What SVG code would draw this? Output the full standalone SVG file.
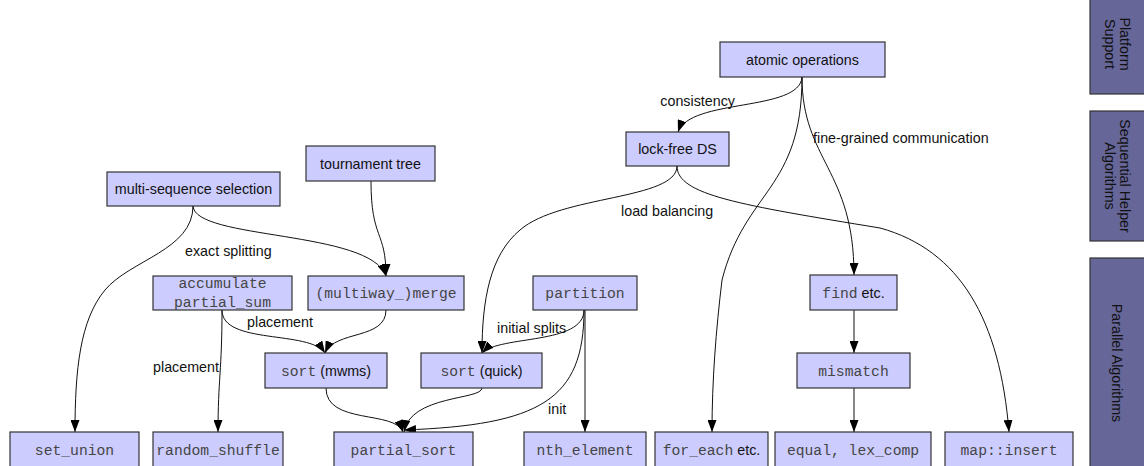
<svg xmlns="http://www.w3.org/2000/svg" width="1144" height="466" viewBox="0 0 1144 466">
  <style>
    .node rect { fill: #ccccff; stroke: #333333; stroke-width: 1.2; }
    .layer rect { fill: #666699; stroke: #333333; stroke-width: 1.2; }
    text { font-family: "Liberation Sans", Arial, sans-serif; font-size: 14.3px; fill: #111111; }
    .mono { font-family: "Liberation Mono", "Courier New", monospace; font-size: 14.7px; fill: #454545; }
    .c { text-anchor: middle; }
    .edges path { fill: none; stroke: #111111; stroke-width: 1; marker-end: url(#arrow); }
    .label { fill: #111111; }
  </style>
  <defs>
    <marker id="arrow" markerUnits="userSpaceOnUse" viewBox="0 0 12 9" refX="12" refY="4.5" markerWidth="12" markerHeight="9" orient="auto">
      <path d="M0,0 L12,4.5 L0,9 z" fill="#000000"/>
    </marker>
  </defs>
  <rect x="0" y="0" width="1144" height="466" fill="#ffffff"/>

  <!-- layer bars on the right -->
  <g id="layer-platform" class="layer">
    <rect x="1090" y="-6" width="60" height="100"/>
    <text transform="translate(1117,44) rotate(90)" class="c"><tspan x="0" y="-3">Platform</tspan><tspan x="0" y="12">Support</tspan></text>
  </g>
  <g id="layer-sequential" class="layer">
    <rect x="1090" y="111" width="60" height="130"/>
    <text transform="translate(1117,176) rotate(90)" class="c"><tspan x="0" y="-3">Sequential Helper</tspan><tspan x="0" y="12">Algorithms</tspan></text>
  </g>
  <g id="layer-parallel" class="layer">
    <rect x="1090" y="258" width="60" height="220"/>
    <text transform="translate(1117,363) rotate(90)" class="c" y="5">Parallel Algorithms</text>
  </g>

  <!-- connectors -->
  <g id="edges" class="edges">
    <path d="M802,77 C800,112 690,98 678,132"/>
    <path d="M802,77 C802,160 854,170 854,275"/>
    <path d="M802,77 C802,190 745,190 722,280 C716,330 712,380 712,432"/>
    <path d="M677,166 C677,200 560,195 520,230 C490,255 482,300 482,353"/>
    <path d="M677,166 C677,195 740,205 880,228 C960,250 1000,320 1009,432"/>
    <path d="M193,206 C193,250 130,260 105,290 C80,320 75,370 75,432"/>
    <path d="M193,206 C195,240 370,230 386,276"/>
    <path d="M371,181 C371,240 386,230 386,276"/>
    <path d="M222,310 C222,345 310,330 325,353"/>
    <path d="M222,310 C222,370 218,380 218,432"/>
    <path d="M386,310 C386,340 335,330 325,353"/>
    <path d="M326,388 C326,425 395,410 403,432"/>
    <path d="M482,388 C482,400 410,395 404,432"/>
    <path d="M584,310 C584,400 540,425 404,430"/>
    <path d="M584,310 C584,345 500,335 482,353"/>
    <path d="M585,310 L585,432"/>
    <path d="M854,310 L854,353"/>
    <path d="M854,388 L854,432"/>
    <text class="label" x="735" y="106" text-anchor="end">consistency</text>
    <text class="label" x="813" y="143">fine-grained communication</text>
    <text class="label" x="621" y="216">load balancing</text>
    <text class="label" x="185" y="256">exact splitting</text>
    <text class="label" x="247" y="327">placement</text>
    <text class="label" x="219" y="372" text-anchor="end">placement</text>
    <text class="label" x="497" y="333">initial splits</text>
    <text class="label" x="548" y="414">init</text>
  </g>

  <!-- nodes -->
  <g id="atomic-operations" class="node">
    <rect x="720" y="42" width="165" height="35"/>
    <text x="802.5" y="64.5" class="c">atomic operations</text>
  </g>
  <g id="lock-free-ds" class="node">
    <rect x="626" y="132" width="103" height="34"/>
    <text x="677.5" y="154" class="c">lock-free DS</text>
  </g>
  <g id="tournament-tree" class="node">
    <rect x="306" y="146" width="129" height="35"/>
    <text x="370.5" y="168.5" class="c">tournament tree</text>
  </g>
  <g id="multi-sequence-selection" class="node">
    <rect x="107" y="172" width="173" height="34"/>
    <text x="193.5" y="194" class="c">multi-sequence selection</text>
  </g>
  <g id="accumulate" class="node">
    <rect x="153" y="276" width="139" height="34"/>
    <text x="222.5" y="288" class="c mono">accumulate</text>
    <text x="222.5" y="307" class="c mono">partial_sum</text>
  </g>
  <g id="multiway-merge" class="node">
    <rect x="308" y="276" width="156" height="34"/>
    <text x="386" y="298" class="c mono">(multiway_)merge</text>
  </g>
  <g id="partition" class="node">
    <rect x="533" y="276" width="104" height="34"/>
    <text x="585" y="298" class="c mono">partition</text>
  </g>
  <g id="find" class="node">
    <rect x="810" y="275" width="87" height="35"/>
    <text x="853.5" y="297.5" class="c"><tspan class="mono">find</tspan> etc.</text>
  </g>
  <g id="sort-mwms" class="node">
    <rect x="265" y="353" width="122" height="35"/>
    <text x="326" y="375.5" class="c"><tspan class="mono">sort</tspan> (mwms)</text>
  </g>
  <g id="sort-quick" class="node">
    <rect x="421" y="353" width="121" height="35"/>
    <text x="481.5" y="375.5" class="c"><tspan class="mono">sort</tspan> (quick)</text>
  </g>
  <g id="mismatch" class="node">
    <rect x="797" y="353" width="113" height="35"/>
    <text x="853.5" y="375.5" class="c mono">mismatch</text>
  </g>
  <g id="set-union" class="node">
    <rect x="10" y="432" width="129" height="36"/>
    <text x="74.5" y="454.5" class="c mono">set_union</text>
  </g>
  <g id="random-shuffle" class="node">
    <rect x="153" y="432" width="130" height="36"/>
    <text x="218" y="454.5" class="c mono">random_shuffle</text>
  </g>
  <g id="partial-sort" class="node">
    <rect x="334" y="432" width="139" height="36"/>
    <text x="403.5" y="454.5" class="c mono">partial_sort</text>
  </g>
  <g id="nth-element" class="node">
    <rect x="524" y="432" width="122" height="36"/>
    <text x="585" y="454.5" class="c mono">nth_element</text>
  </g>
  <g id="for-each" class="node">
    <rect x="655" y="432" width="113" height="36"/>
    <text x="711.5" y="454.5" class="c"><tspan class="mono">for_each</tspan> etc.</text>
  </g>
  <g id="equal-lex-comp" class="node">
    <rect x="775" y="432" width="156" height="36"/>
    <text x="853" y="454.5" class="c mono">equal, lex_comp</text>
  </g>
  <g id="map-insert" class="node">
    <rect x="945" y="432" width="128" height="36"/>
    <text x="1009" y="454.5" class="c mono">map::insert</text>
  </g>
</svg>
